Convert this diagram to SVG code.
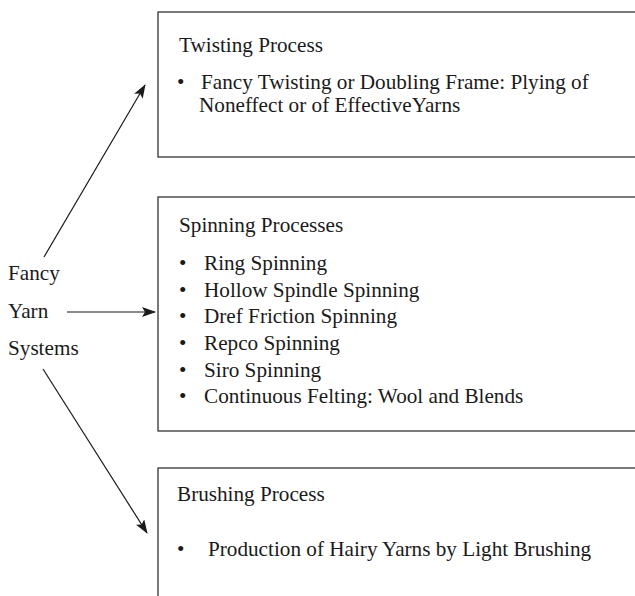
<svg xmlns="http://www.w3.org/2000/svg" width="635" height="596" viewBox="0 0 635 596">
<defs>
<marker id="ah" viewBox="0 0 14 10" refX="13" refY="5" markerWidth="14" markerHeight="10" markerUnits="userSpaceOnUse" orient="auto">
<path d="M0,0 L14,5 L0,10 L3,5 Z" fill="#1a1a1a"/>
</marker>
<style>
text{font-family:"Liberation Serif","Times New Roman",serif;font-size:21.2px;fill:#1a1a1a}
.box{fill:none;stroke:#333;stroke-width:1.3}
.con{stroke:#1a1a1a;stroke-width:1.2;fill:none}
</style>
</defs>
<rect width="635" height="596" fill="#fff"/>
<g id="source">
<text x="8" y="280">Fancy</text>
<text x="8" y="318">Yarn</text>
<text x="8" y="355">Systems</text>
</g>
<g id="twisting">
<rect class="box" x="158" y="12" width="490" height="145"/>
<text x="179" y="52">Twisting Process</text>
<text x="177" y="89">•</text>
<text x="201" y="89">Fancy Twisting or Doubling Frame: Plying of</text>
<text x="199" y="112">Noneffect or of EffectiveYarns</text>
</g>
<g id="spinning">
<rect class="box" x="158" y="197" width="490" height="234"/>
<text x="179" y="232">Spinning Processes</text>
<text x="179" y="270">•</text><text x="204" y="270">Ring Spinning</text>
<text x="179" y="297">•</text><text x="204" y="297">Hollow Spindle Spinning</text>
<text x="179" y="323">•</text><text x="204" y="323">Dref Friction Spinning</text>
<text x="179" y="350">•</text><text x="204" y="350">Repco Spinning</text>
<text x="179" y="377">•</text><text x="204" y="377">Siro Spinning</text>
<text x="179" y="403">•</text><text x="204" y="403">Continuous Felting: Wool and Blends</text>
</g>
<g id="brushing">
<rect class="box" x="158" y="468" width="490" height="150"/>
<text x="177" y="501">Brushing Process</text>
<text x="177" y="556">•</text>
<text x="208" y="556">Production of Hairy Yarns by Light Brushing</text>
</g>
<g id="connectors">
<line class="con" x1="44" y1="257" x2="145" y2="85" marker-end="url(#ah)"/>
<line class="con" x1="67" y1="312" x2="155" y2="312" marker-end="url(#ah)"/>
<line class="con" x1="43" y1="369" x2="147" y2="533" marker-end="url(#ah)"/>
</g>
</svg>
